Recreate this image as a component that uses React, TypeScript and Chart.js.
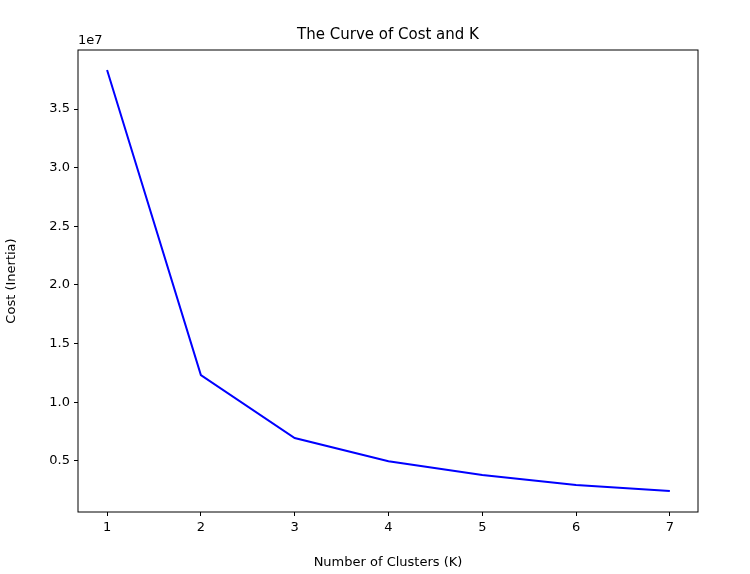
import React, { useEffect, useRef } from "react";
import Chart from "chart.js/auto";

const clusters = [1, 2, 3, 4, 5, 6, 7];
const cost = [38320000, 12320000, 6950000, 4970000, 3800000, 2950000, 2430000];
const yTicks = [5e6, 1e7, 1.5e7, 2e7, 2.5e7, 3e7, 3.5e7];

const FONT = "'DejaVu Sans', sans-serif";

export default function App() {
  const ref = useRef<HTMLCanvasElement | null>(null);

  useEffect(() => {
    document.body.style.margin = "0";
    if (!ref.current) return;
    const frame = {
      id: "frame",
      afterDraw(c: any) {
        const { ctx, chartArea: a } = c;
        ctx.save();
        ctx.strokeStyle = "#000";
        ctx.lineWidth = 1;
        ctx.strokeRect(a.left, a.top, a.right - a.left, a.bottom - a.top);
        ctx.fillStyle = "#000";
        ctx.font = `15px ${FONT}`;
        ctx.textAlign = "center";
        ctx.textBaseline = "alphabetic";
        ctx.fillText("The Curve of Cost and K", (a.left + a.right) / 2, 39);
        ctx.font = `13px ${FONT}`;
        ctx.textAlign = "left";
        ctx.fillText("1e7", a.left, 44);
        ctx.restore();
      },
    };
    const chart = new Chart(ref.current, {
      type: "line",
      data: {
        datasets: [
          {
            data: clusters.map((k, i) => ({ x: k, y: cost[i] })),
            borderColor: "#0000ff",
            borderWidth: 2,
            pointRadius: 0,
            tension: 0,
          },
        ],
      },
      options: {
        animation: false,
        responsive: false,
        layout: { padding: { top: 50, right: 52, left: 0, bottom: 0 } },
        plugins: { legend: { display: false }, tooltip: { enabled: false } },
        scales: {
          x: {
            type: "linear",
            min: 0.69,
            max: 7.3,
            afterBuildTicks: (s: any) => {
              s.ticks = clusters.map((v) => ({ value: v }));
            },
            afterFit: (s: any) => {
              s.height = 62;
            },
            grid: { drawOnChartArea: false, tickLength: 4, color: "#000" },
            border: { display: false },
            ticks: { color: "#000", font: { family: FONT, size: 13 }, padding: 4, maxRotation: 0 },
            title: { display: true, text: "Number of Clusters (K)", color: "#000", font: { family: FONT, size: 13 }, padding: { top: 4 } },
          },
          y: {
            min: 650000,
            max: 40030000,
            afterBuildTicks: (s: any) => {
              s.ticks = yTicks.map((v) => ({ value: v }));
            },
            afterFit: (s: any) => {
              s.width = 78;
            },
            grid: { drawOnChartArea: false, tickLength: 4, color: "#000" },
            border: { display: false },
            ticks: {
              color: "#000",
              font: { family: FONT, size: 13 },
              padding: 4,
              callback: (v: any) => (Number(v) / 1e7).toFixed(1),
            },
            title: { display: true, text: "Cost (Inertia)", color: "#000", font: { family: FONT, size: 13 }, padding: { bottom: 4 } },
          },
        },
      },
      plugins: [frame],
    });
    return () => chart.destroy();
  }, []);

  return (
    <div style={{ width: 750, height: 574, background: "#fff" }}>
      <canvas ref={ref} width={750} height={574} style={{ width: 750, height: 574 }} />
    </div>
  );
}
